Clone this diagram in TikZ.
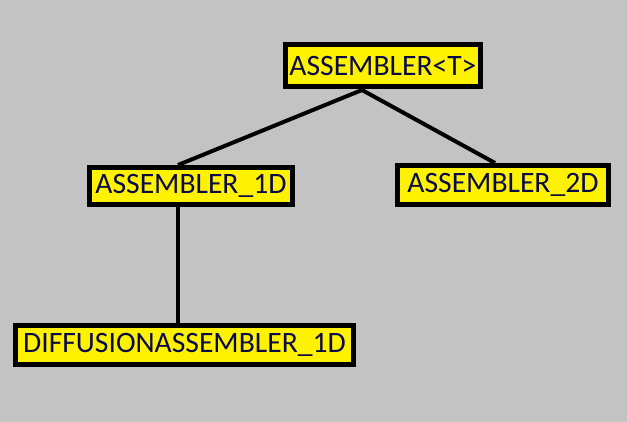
\documentclass[tikz,border=0pt]{standalone}
\usepackage{fontspec}
\setmainfont{Carlito}
\definecolor{bggray}{RGB}{195,195,195}
\definecolor{boxyellow}{RGB}{255,242,0}
\definecolor{textnavy}{RGB}{10,10,70}

\begin{document}
\begin{tikzpicture}[x=1pt, y=-1pt, line width=4pt]
            \tikzstyle{class} = [rectangle, draw=black, line width=5pt, fill=boxyellow, text=textnavy, inner sep=0pt, font=\fontsize{29.6}{30}\selectfont]

            \fill[bggray] (0, 0) rectangle (627, 422);
            \useasboundingbox (0, 0) rectangle (627, 422);

            \node[class, minimum width=195pt, minimum height=42pt] (asm) at (383, 65.5) {ASSEMBLER<T>};
            \node[class, minimum width=203pt, minimum height=37pt] (asm1d) at (191, 186) {ASSEMBLER\_1D};
            \node[class, minimum width=211pt, minimum height=39pt] (asm2d) at (503, 185) {ASSEMBLER\_2D};
            \node[class, minimum width=338pt, minimum height=39pt] (diff1d) at (184.5, 345) {DIFFUSIONASSEMBLER\_1D};

            \coordinate (fork) at (362, 90);

            \draw (fork) -- ([xshift=-13pt]asm1d.north);
            \draw (fork) -- ([xshift=-8pt]asm2d.north);
            \draw ([xshift=-13pt]asm1d.south) -- ([xshift=-13pt]asm1d.south |- diff1d.north);
          \end{tikzpicture}
\end{document}
